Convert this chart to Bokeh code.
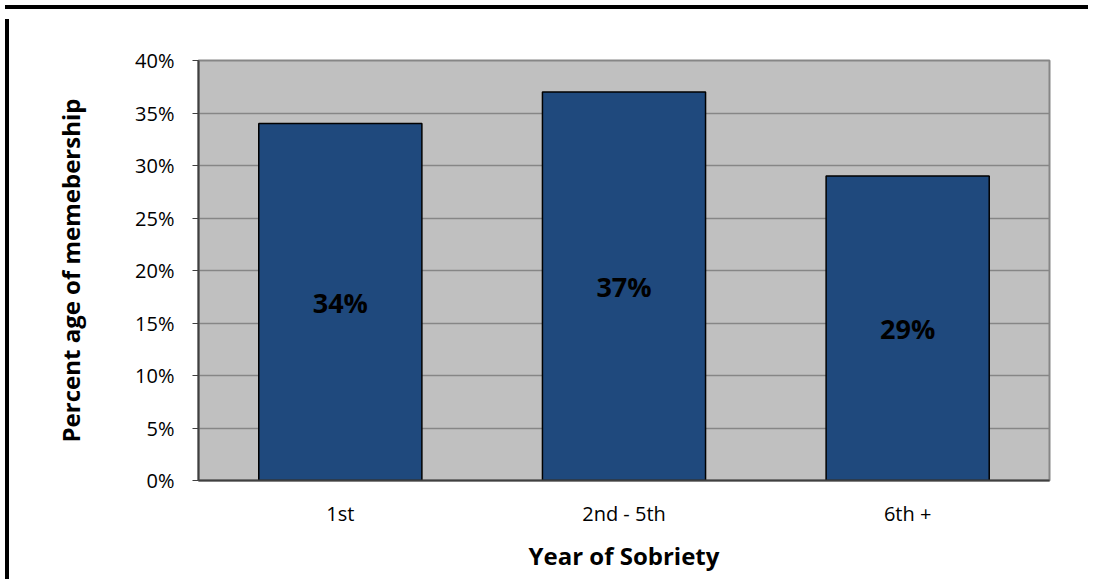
from bokeh.plotting import figure
from bokeh.models import ColumnDataSource, FixedTicker, Div
from bokeh.layouts import column, row
from bokeh.core.properties import value
from bokeh.embed import file_html
from bokeh.resources import INLINE

categories = ["1st", "2nd - 5th", "6th +"]
percent_values = [34, 37, 29]
bar_labels = ["34%", "37%", "29%"]
y_ticks = [0, 5, 10, 15, 20, 25, 30, 35, 40]
y_tick_labels = ["0%", "5%", "10%", "15%", "20%", "25%", "30%", "35%", "40%"]

src = ColumnDataSource(dict(
    cat=categories,
    val=percent_values,
    mid=[v / 2 for v in percent_values],
    lab=bar_labels,
))

FONT = "Open Sans"
W, H = 1079, 560

p = figure(x_range=categories, y_range=(0, 40), width=W, height=H,
           output_backend="svg", toolbar_location=None,
           min_border_left=184, min_border_top=46, min_border_right=44,
           min_border_bottom=93)
p.x_range.range_padding = 0
p.background_fill_color = "#C0C0C0"
p.border_fill_color = "white"
p.outline_line_color = "#868686"
p.outline_line_width = 2

p.vbar(x="cat", top="val", width=0.575, source=src,
       fill_color="#1F497D", line_color="black", line_width=1.5)
p.text(x="cat", y="mid", text="lab", source=src,
       text_align="center", text_baseline="middle",
       text_font=value(FONT), text_font_style="bold",
       text_font_size="27px", text_color="black")

p.xgrid.grid_line_color = None
p.ygrid.grid_line_color = "#868686"
p.ygrid.grid_line_width = 1.5
p.yaxis.ticker = FixedTicker(ticks=y_ticks)
p.yaxis.major_label_overrides = {t: l for t, l in zip(y_ticks, y_tick_labels)}

for ax in (p.xaxis[0], p.yaxis[0]):
    ax.axis_line_color = "#404040"
    ax.axis_line_width = 2
    ax.major_label_text_font = FONT
    ax.major_label_text_color = "black"
    ax.axis_label_text_font = FONT
    ax.axis_label_text_font_style = "bold"
    ax.axis_label_text_font_size = "24px"
    ax.axis_label_text_color = "black"
    ax.minor_tick_line_color = None

p.yaxis.major_label_text_font_size = "20px"
p.yaxis.major_tick_in = 0
p.yaxis.major_tick_out = 6
p.yaxis.major_tick_line_color = "#404040"
p.yaxis.major_label_standoff = 18
p.yaxis.axis_label = "Percent age of memebership"
p.yaxis.axis_label_standoff = 45

p.xaxis.major_label_text_font_size = "20px"
p.xaxis.major_tick_in = 0
p.xaxis.major_tick_out = 0
p.xaxis.major_label_standoff = 19
p.xaxis.axis_label = "Year of Sobriety"
p.xaxis.axis_label_standoff = 9

top_bar = Div(width=W + 4, height=4, styles={"background-color": "black"})
left_bar = Div(width=4, height=H, styles={"background-color": "black"})
layout = column(top_bar, row(left_bar, p, spacing=0), spacing=0)

open("out.html", "w").write(file_html(layout, INLINE))
